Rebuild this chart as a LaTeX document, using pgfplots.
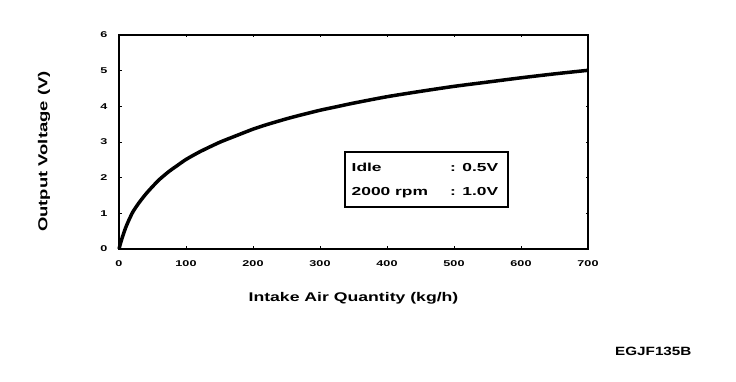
\documentclass[border=0pt]{standalone}
\usepackage{graphicx}
\usepackage{fontspec}
\setmainfont{Liberation Sans}
\usepackage{pgfplots}
\pgfplotsset{compat=1.18}
\newcommand{\tk}[1]{\scalebox{1.5}[1]{\bfseries #1}}
\begin{document}
\begin{tikzpicture}
\path[use as bounding box] (0,0) rectangle (736pt,382pt);
\begin{axis}[
  at={(119pt,133pt)}, anchor=south west,
  scale only axis, width=469pt, height=214pt,
  xmin=0, xmax=700, ymin=0, ymax=6,
  xtick={0,100,200,300,400,500,600,700},
  xticklabels={\tk{0},\tk{100},\tk{200},\tk{300},\tk{400},\tk{500},\tk{600},\tk{700}},
  ytick={0,1,2,3,4,5,6},
  yticklabels={\tk{0},\tk{1},\tk{2},\tk{3},\tk{4},\tk{5},\tk{6}},
  tick label style={font=\fontsize{8.4}{10}\selectfont},
  xticklabel style={yshift=-8pt},
  yticklabel style={xshift=-8pt},
  axis line style={line width=1.8pt},
  tick style={line width=0.8pt, black},
  major tick length=2.5pt,
  xlabel={\scalebox{1.4}[1]{\bfseries Intake Air Quantity (kg/h)}},
  xlabel style={at={(axis description cs:0.5,-0.229)}, anchor=center, font=\fontsize{12.6}{15}\selectfont},
  ylabel={\scalebox{1.42}[1]{\bfseries Output Voltage (V)}},
  ylabel style={at={(axis description cs:-0.1600,0.4550)}, anchor=center, font=\fontsize{13}{15}\selectfont},
  clip=false,
]
\addplot[black, line width=3.5pt, smooth, tension=0.4] coordinates {
(0,0) (2,0.14) (5,0.33) (10,0.60) (15,0.82) (21,1.05) (30,1.30) (40,1.54)
(50,1.75) (61,1.96) (75,2.18) (87,2.34) (100,2.51) (121,2.73) (150,2.99)
(170,3.14) (200,3.36) (221,3.49) (250,3.65) (270,3.75) (300,3.89) (325,3.99)
(350,4.09) (400,4.27) (450,4.42) (500,4.56) (550,4.68) (600,4.80) (650,4.91) (700,5.01)
};
\draw[line width=1.5pt] (axis cs:337.3,1.18) rectangle (axis cs:580.6,2.72);
\node[anchor=base west, inner sep=0, font=\fontsize{11.6}{14}\selectfont] at (axis cs:347,2.17) {\scalebox{1.5}[1]{\bfseries Idle}};
\node[anchor=base west, inner sep=0, font=\fontsize{11.6}{14}\selectfont] at (axis cs:494,2.17) {\scalebox{1.5}[1]{\bfseries : 0.5V}};
\node[anchor=base west, inner sep=0, font=\fontsize{11.6}{14}\selectfont] at (axis cs:347,1.51) {\scalebox{1.5}[1]{\bfseries 2000 rpm}};
\node[anchor=base west, inner sep=0, font=\fontsize{11.6}{14}\selectfont] at (axis cs:494,1.51) {\scalebox{1.5}[1]{\bfseries : 1.0V}};
\end{axis}
\node[anchor=base west, inner sep=0, font=\fontsize{12}{14}\selectfont] at (615pt,26pt) {\scalebox{1.27}[1]{\bfseries EGJF135B}};
\end{tikzpicture}
\end{document}
